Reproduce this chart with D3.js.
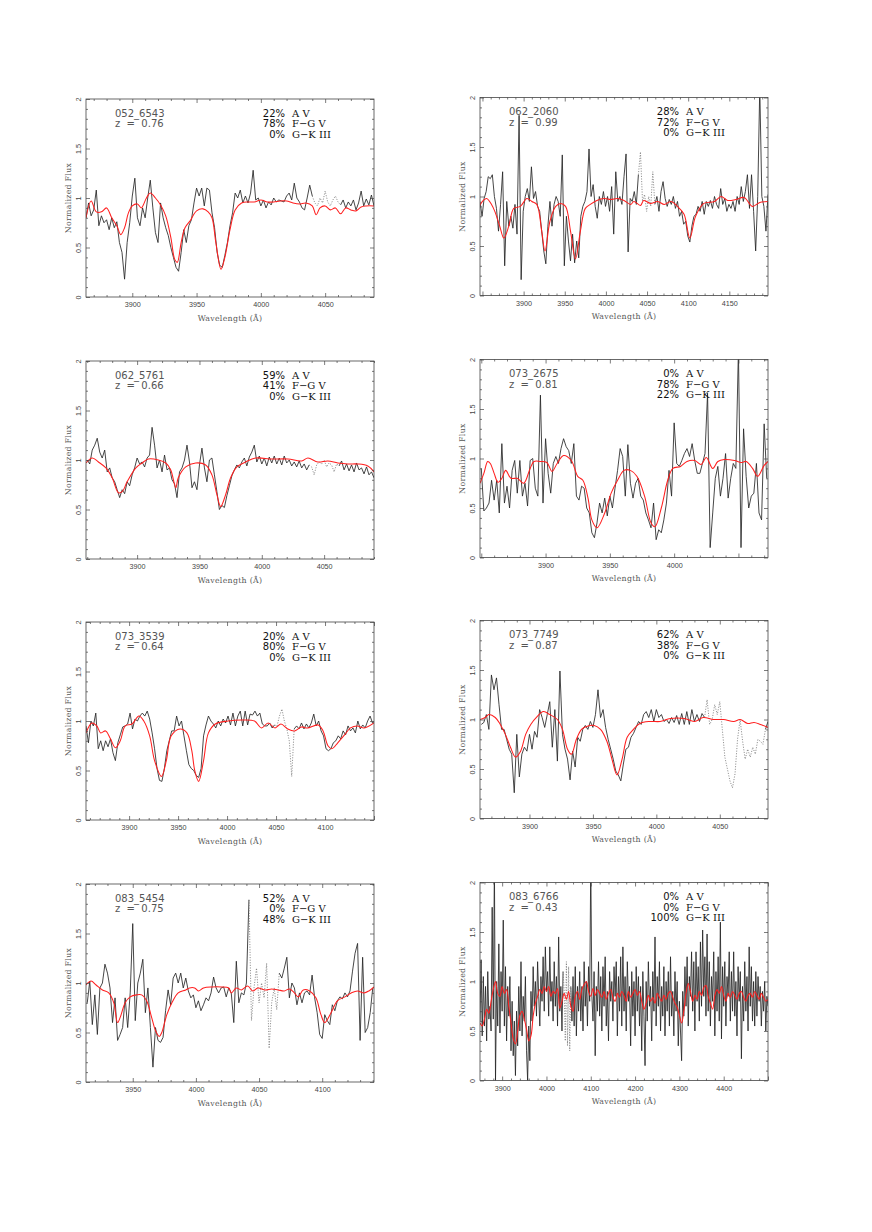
<!DOCTYPE html>
<html>
<head>
<meta charset="utf-8">
<script src="https://cdn.jsdelivr.net/npm/d3@7"></script>
<style>
  body { margin: 0; background: #fff; }
  svg { display: block; }
</style>
</head>
<body>
<div id="chart"></div>
<script>
// ---- panel labels ----
const specIds   = ["052_6543", "062_2060", "062_5761", "073_2675", "073_3539", "073_7749", "083_5454", "083_6766"];
const redshifts = ["0.76", "0.99", "0.66", "0.81", "0.64", "0.87", "0.75", "0.43"];
const pctA  = [22, 28, 59, 0, 20, 62, 52, 0];
const pctFG = [78, 72, 41, 78, 80, 38, 0, 0];
const pctGK = [0, 0, 0, 22, 0, 0, 48, 100];
const typeNames = ["A V", "F\u2212G V", "G\u2212K III"];

// ---- axes ----
const waveRanges = [[3864, 4088], [3847, 4197], [3859, 4090], [3849, 4073], [3856, 4150], [3861, 4088], [3913, 4141], [3850, 4500]];
const waveLabels = [
  [3900, 3950, 4000, 4050],
  [3900, 3950, 4000, 4050, 4100, 4150],
  [3900, 3950, 4000, 4050],
  [3900, 3950, 4000],
  [3900, 3950, 4000, 4050, 4100],
  [3900, 3950, 4000, 4050],
  [3950, 4000, 4050, 4100],
  [3900, 4000, 4100, 4200, 4300, 4400]
];
const fluxLabels = [0, 0.5, 1, 1.5, 2];

// ---- observed spectra: first wavelength, sampling, flux ----
const obsStart = [3864, 3847, 3860, 3850, 3856, 3862, 3914, 3850];
const obsStep  = [2, 2.5, 2, 2, 2.5, 2, 2, 2.5];
// wavelength windows drawn dotted (masked sky lines)
const maskedWindows = [[4041, 4061], [4040, 4059], [4040, 4061], null, [4050, 4067], [4039, 4084], [4043, 4064], [4039, 4054]];

const obs052_6543 = [0.80,0.95,0.82,0.88,1.08,0.72,0.82,0.75,0.78,0.68,
  0.80,0.70,0.76,0.55,0.45,0.18,0.55,0.75,1.02,1.20,
  0.80,0.72,0.90,0.80,1.00,1.18,0.90,0.65,0.55,0.95,
  0.80,0.70,0.62,0.50,0.40,0.30,0.26,0.45,0.68,0.55,
  0.72,0.78,0.95,1.10,1.02,1.10,0.92,1.10,1.08,0.85,
  0.70,0.45,0.32,0.30,0.42,0.55,0.72,0.85,1.05,1.00,
  1.08,0.95,1.02,0.95,1.05,1.28,0.98,1.00,0.92,0.98,
  0.90,0.96,0.93,1.00,0.96,0.98,0.97,0.96,1.02,1.05,
  0.98,1.15,1.00,0.96,0.90,0.88,1.00,1.13,1.02,0.95,
  0.92,1.00,0.95,1.07,0.96,0.92,0.98,1.02,0.96,0.93,
  0.98,0.90,0.96,0.92,0.98,0.88,0.95,1.07,0.92,0.99,
  0.93,1.03,0.92];
const obs062_2060 = [0.95,0.80,0.98,1.05,1.20,1.18,1.22,1.00,0.88,0.65,
  0.92,1.25,0.30,0.95,0.70,0.80,0.68,0.92,0.62,1.82,
  0.16,0.85,1.00,1.08,0.95,1.30,0.98,1.05,0.90,0.85,
  0.65,0.45,0.32,0.70,0.95,0.70,0.92,1.00,0.95,0.80,
  1.42,0.30,0.80,0.55,0.35,0.62,0.33,0.55,0.38,0.80,
  0.90,0.95,1.05,1.48,1.00,1.12,0.90,0.78,1.00,0.92,
  1.05,0.90,1.00,0.85,1.10,0.62,1.25,0.95,1.00,0.92,
  1.20,1.43,0.44,0.98,0.95,1.05,0.92,1.22,1.45,0.95,
  1.02,0.85,1.00,0.90,1.25,0.92,1.00,0.85,1.05,1.15,
  0.98,0.90,0.97,0.92,1.00,0.88,0.95,0.80,0.85,0.72,
  0.75,0.60,0.54,0.70,0.80,0.82,0.90,0.85,0.95,0.82,
  0.95,0.90,0.96,0.88,1.00,0.92,0.88,1.08,0.92,0.98,
  0.85,0.92,0.88,0.95,0.85,1.00,0.92,1.10,0.95,1.05,
  1.22,0.88,1.22,0.85,0.45,1.00,2.10,1.00,0.90,0.65,
  1.02];
const obs062_5761 = [1.00,0.96,1.10,1.15,1.22,1.08,1.02,1.10,0.88,0.92,
  0.82,0.78,0.70,0.62,0.70,0.66,0.78,0.74,0.85,0.92,
  1.02,0.96,0.98,0.93,1.02,1.05,1.33,1.15,0.92,1.00,
  0.88,1.05,0.90,0.92,0.80,0.76,0.62,0.88,0.92,1.00,
  1.15,0.98,0.72,0.78,0.70,0.95,1.12,0.92,0.78,1.00,
  1.02,0.85,0.68,0.50,0.54,0.52,0.64,0.74,0.84,0.90,
  0.95,0.92,0.98,1.02,0.94,1.03,1.08,1.15,0.98,1.04,
  0.96,1.02,0.94,1.03,0.97,1.04,0.96,1.02,0.95,1.04,
  0.97,1.00,0.94,0.98,0.93,0.99,0.92,0.96,0.90,0.95,
  0.93,0.85,0.95,0.98,0.96,1.00,0.93,0.97,0.95,0.88,
  0.96,0.94,0.99,0.90,0.96,0.89,0.95,0.88,0.97,0.90,
  0.92,0.86,0.93,0.85,0.88,0.82];
const obs073_2675 = [0.90,0.47,0.50,0.55,0.78,0.58,0.78,0.45,1.15,0.55,
  0.72,0.50,0.88,0.98,0.65,0.98,0.62,0.75,0.52,0.98,
  1.00,0.70,0.62,1.64,0.55,1.20,0.85,0.65,0.95,1.02,
  0.95,1.10,1.20,1.12,1.08,0.95,1.15,0.62,0.58,0.72,
  0.70,0.50,0.45,0.25,0.20,0.35,0.55,0.45,0.60,0.42,
  0.62,0.50,0.70,0.88,1.10,1.02,0.62,1.14,0.75,0.60,
  0.75,0.80,0.62,0.58,0.45,0.38,0.30,0.55,0.18,0.28,
  0.25,0.38,0.55,0.88,0.62,1.36,0.95,0.92,0.98,1.05,
  1.10,1.02,1.15,0.98,0.85,0.85,0.95,1.05,1.66,0.10,
  0.45,0.80,0.92,0.62,0.80,1.05,0.60,0.80,0.95,0.90,
  2.10,0.10,1.30,0.82,0.50,0.62,0.65,0.95,0.45,0.38,
  1.35,0.80];
const obs073_3539 = [0.95,0.78,1.00,0.95,1.08,0.72,0.80,0.70,0.80,0.74,
  0.82,0.68,0.60,0.78,0.86,0.94,0.95,0.97,1.08,0.92,
  1.02,1.00,1.05,1.08,1.05,1.10,1.02,0.88,0.72,0.52,
  0.40,0.39,0.52,0.70,0.80,0.90,0.90,1.05,0.95,1.00,
  0.85,0.70,0.56,0.52,0.50,0.45,0.43,0.52,0.85,0.96,
  1.05,1.00,0.97,0.93,1.00,0.95,1.02,0.98,1.05,0.96,
  1.08,0.95,1.05,1.10,0.95,1.10,0.96,1.07,1.06,1.10,
  1.05,1.08,0.97,0.95,0.95,0.98,0.93,0.96,0.95,1.05,
  1.12,1.00,0.92,0.80,0.44,0.92,0.95,0.92,0.98,0.92,
  0.97,0.93,0.98,1.07,0.95,1.00,0.90,0.85,0.72,0.70,
  0.72,0.78,0.80,0.85,0.82,0.90,0.86,0.95,0.90,0.93,
  0.88,1.00,0.92,0.96,0.93,1.00,1.05,0.98,1.00];
const obs073_7749 = [0.95,0.97,1.05,0.90,1.45,1.30,1.42,1.15,0.90,0.90,
  0.80,0.70,0.65,0.26,0.85,0.42,0.65,0.72,0.68,0.85,
  0.70,0.88,0.82,1.10,1.02,0.92,1.05,1.18,0.72,1.10,
  0.58,1.49,0.85,0.70,0.60,0.39,0.68,0.52,0.82,0.78,
  0.90,0.94,0.90,0.98,0.92,1.05,1.30,1.02,1.10,0.92,
  0.80,0.70,0.60,0.48,0.44,0.38,0.55,0.70,0.72,0.82,
  0.86,0.92,0.98,0.95,1.05,1.08,1.02,1.10,0.98,1.10,
  1.02,1.05,0.98,1.00,0.96,1.02,0.97,1.04,0.95,1.06,
  0.95,1.08,0.95,1.10,0.98,1.05,0.98,1.06,1.02,1.20,
  0.95,1.00,1.15,1.05,1.18,0.90,0.62,0.50,0.38,0.31,
  0.45,0.80,1.00,0.78,0.60,0.70,0.62,0.72,0.65,0.80,
  0.78,0.75,0.90,0.98];
const obs083_5454 = [0.80,1.02,0.58,0.88,0.48,0.95,1.00,1.19,1.10,0.95,
  0.60,0.85,0.42,0.48,0.55,0.85,0.55,0.90,1.60,0.62,
  1.00,1.10,1.24,0.70,0.95,0.55,0.15,0.55,0.42,0.40,
  0.45,0.72,0.93,0.78,1.05,1.10,1.00,1.10,0.95,1.05,
  0.92,0.85,0.88,0.75,0.82,0.72,0.78,0.85,0.82,0.90,
  1.06,0.95,0.90,0.95,0.96,0.86,0.95,0.90,0.60,1.22,
  0.80,0.90,0.88,1.00,1.84,0.62,0.95,1.15,0.80,1.00,
  0.85,1.20,0.34,0.80,0.95,0.73,1.10,1.05,1.15,1.26,
  0.85,1.00,0.95,0.78,0.90,0.80,0.90,0.92,0.88,1.08,
  0.85,0.70,0.48,0.44,0.68,0.62,0.58,0.78,0.72,0.82,
  0.86,0.84,0.90,0.86,0.92,1.12,1.30,1.40,0.42,1.26,
  0.50,0.55,0.70,0.95];
const obs083_6766 = [0.60,1.22,0.45,1.05,0.55,0.95,0.40,1.10,0.62,0.75,
  0.50,1.75,0.62,2.20,0.00,1.00,0.55,1.38,0.48,1.10,
  0.70,1.62,0.55,1.15,0.40,0.95,0.65,1.05,0.30,0.80,
  0.25,0.60,0.05,0.70,0.35,0.95,0.50,1.20,0.45,0.85,
  0.60,1.05,0.30,0.00,0.55,0.20,0.90,0.60,1.15,0.75,
  1.00,0.65,1.20,0.85,0.55,1.05,0.80,1.25,0.70,1.35,
  0.90,1.10,0.65,1.35,0.80,1.00,0.60,1.20,0.75,1.05,
  0.55,1.45,0.70,0.95,0.50,1.10,0.90,0.40,1.20,0.35,
  1.15,0.30,0.95,0.60,1.05,0.55,1.15,0.45,0.95,0.70,
  1.10,0.60,0.95,0.50,1.20,0.75,1.00,0.55,1.15,0.80,
  2.20,0.85,0.60,1.10,0.25,0.95,0.70,1.20,0.65,1.05,
  0.50,1.15,0.75,1.25,0.55,0.90,0.40,1.10,0.80,1.00,
  0.60,1.15,0.85,1.20,0.45,1.05,0.70,1.25,0.55,1.35,
  0.70,1.05,0.50,1.20,0.80,0.95,0.35,1.10,0.65,1.00,
  0.45,1.15,0.70,1.05,0.55,0.95,0.30,1.10,0.65,0.15,
  1.00,0.60,1.20,0.75,0.95,0.40,1.10,0.70,1.45,0.55,
  1.05,0.75,1.20,0.50,0.95,0.65,1.15,0.45,1.00,0.70,
  1.10,0.55,1.25,0.65,0.90,0.45,1.10,0.70,1.00,0.35,
  0.80,0.50,0.20,0.90,0.65,1.15,0.75,1.25,0.55,1.05,
  0.85,1.30,0.70,1.20,0.50,1.30,0.80,1.15,0.60,1.40,
  0.75,1.52,0.85,1.25,0.65,1.48,0.70,1.20,0.55,1.05,
  0.80,1.30,0.45,1.10,0.70,1.25,0.60,1.60,0.42,1.15,
  0.75,1.20,0.55,1.05,0.85,1.30,0.60,1.10,0.70,1.30,
  0.65,1.00,0.45,1.15,0.80,1.10,0.22,0.95,0.60,1.20,
  0.70,1.05,0.50,1.35,0.75,1.15,0.60,1.00,0.55,1.10,
  0.65,1.05,0.80,0.95,0.55,0.90,0.70,1.00,0.50,0.85,
  0.75];
const obsFlux = [obs052_6543, obs062_2060, obs062_5761, obs073_2675, obs073_3539, obs073_7749, obs083_5454, obs083_6766];

// ---- best-fit template (wavelength, flux) ----
const fit052_6543 = [[3864,0.80],[3868,0.97],[3872,0.86],[3876,0.86],[3880,0.90],[3884,0.80],[3888,0.72],[3891,0.63],[3894,0.70],[3897,0.85],[3900,0.92],[3904,0.94],[3907,0.90],[3911,1.00],[3914,1.05],[3918,1.00],[3922,0.93],[3926,0.82],[3930,0.60],[3933,0.38],[3935,0.35],[3938,0.55],[3941,0.70],[3945,0.77],[3950,0.87],[3955,0.89],[3959,0.86],[3962,0.80],[3965,0.55],[3969,0.28],[3972,0.40],[3976,0.68],[3980,0.88],[3985,0.95],[3990,0.96],[3995,0.96],[4000,0.98],[4005,0.96],[4010,0.96],[4015,0.97],[4020,0.97],[4025,0.95],[4030,0.94],[4035,0.95],[4040,0.92],[4043,0.83],[4046,0.90],[4050,0.92],[4054,0.88],[4058,0.90],[4062,0.84],[4066,0.90],[4070,0.88],[4074,0.87],[4078,0.91],[4082,0.92],[4088,0.92]];
const fit062_2060 = [[3846,0.90],[3851,0.96],[3855,0.98],[3861,0.92],[3865,0.85],[3871,0.70],[3876,0.58],[3882,0.70],[3888,0.88],[3896,0.90],[3904,0.98],[3910,0.95],[3916,0.92],[3922,0.65],[3926,0.45],[3932,0.75],[3939,0.90],[3945,0.93],[3951,0.90],[3957,0.65],[3963,0.37],[3969,0.65],[3975,0.88],[3981,0.92],[3989,0.96],[3998,0.98],[4006,0.97],[4014,0.98],[4022,0.96],[4030,0.92],[4034,0.95],[4042,0.91],[4046,0.96],[4054,0.93],[4063,0.95],[4071,0.92],[4079,0.95],[4087,0.90],[4095,0.82],[4102,0.58],[4109,0.80],[4119,0.93],[4132,0.95],[4140,1.00],[4148,0.96],[4158,0.97],[4168,0.99],[4178,0.90],[4187,0.94],[4197,0.95]];
const fit062_5761 = [[3859,0.97],[3864,1.02],[3869,0.98],[3875,0.92],[3880,0.82],[3885,0.67],[3888,0.68],[3892,0.78],[3899,0.92],[3904,0.97],[3909,1.01],[3917,1.00],[3923,0.97],[3927,0.90],[3931,0.72],[3933,0.82],[3939,0.93],[3947,0.97],[3955,0.95],[3960,0.85],[3964,0.65],[3967,0.53],[3971,0.65],[3975,0.82],[3980,0.93],[3987,0.98],[3995,1.02],[4008,1.01],[4021,1.01],[4032,0.99],[4037,1.02],[4045,0.98],[4053,0.99],[4061,0.97],[4069,0.96],[4077,0.96],[4085,0.94],[4090,0.88]];
const fit073_2675 = [[3849,0.75],[3852,0.85],[3855,0.97],[3857,0.95],[3860,0.85],[3863,0.76],[3866,0.80],[3869,0.88],[3873,0.80],[3878,0.80],[3883,0.75],[3888,0.90],[3891,0.97],[3896,0.97],[3901,0.96],[3905,0.87],[3909,0.95],[3914,1.03],[3920,0.98],[3925,0.82],[3929,0.78],[3933,0.60],[3936,0.38],[3940,0.30],[3946,0.45],[3951,0.65],[3956,0.78],[3961,0.88],[3966,0.88],[3971,0.82],[3977,0.62],[3982,0.35],[3985,0.31],[3990,0.50],[3995,0.78],[3999,0.90],[4005,0.92],[4010,0.97],[4016,0.98],[4021,0.94],[4025,1.01],[4030,0.90],[4034,0.97],[4039,0.99],[4047,0.98],[4052,0.96],[4056,0.97],[4061,0.90],[4065,0.82],[4070,0.93],[4073,0.97]];
const fit073_3539 = [[3856,0.88],[3862,0.98],[3867,0.95],[3871,0.88],[3876,0.90],[3881,0.82],[3886,0.73],[3891,0.80],[3896,0.95],[3903,0.97],[3910,1.05],[3915,1.00],[3921,0.85],[3926,0.60],[3933,0.44],[3938,0.60],[3943,0.85],[3952,0.92],[3959,0.88],[3964,0.70],[3967,0.50],[3971,0.39],[3976,0.60],[3981,0.88],[3988,0.97],[4001,1.00],[4015,1.01],[4028,1.00],[4035,0.93],[4042,0.98],[4049,0.93],[4055,0.97],[4062,0.92],[4069,0.90],[4076,0.94],[4082,0.93],[4093,0.96],[4098,0.90],[4103,0.75],[4107,0.72],[4113,0.78],[4120,0.86],[4126,0.93],[4133,0.95],[4140,0.93],[4150,0.98]];
const fit073_7749 = [[3861,1.00],[3865,1.02],[3868,1.05],[3873,1.02],[3877,0.95],[3881,0.85],[3885,0.72],[3889,0.62],[3893,0.68],[3897,0.85],[3901,0.95],[3906,1.03],[3911,1.08],[3916,1.05],[3922,1.00],[3926,0.90],[3930,0.70],[3933,0.65],[3937,0.80],[3941,0.90],[3945,0.93],[3951,0.94],[3956,0.90],[3961,0.78],[3965,0.60],[3969,0.44],[3973,0.60],[3977,0.82],[3982,0.90],[3987,0.96],[3995,0.98],[4003,0.98],[4011,1.01],[4022,1.01],[4030,0.98],[4037,1.02],[4045,1.00],[4053,1.00],[4061,0.98],[4066,1.00],[4072,0.96],[4077,0.97],[4082,0.95],[4088,0.92]];
const fit083_5454 = [[3913,0.98],[3917,1.02],[3921,0.98],[3926,0.93],[3931,0.90],[3935,0.80],[3938,0.60],[3940,0.65],[3944,0.80],[3948,0.86],[3953,0.88],[3957,0.88],[3961,0.82],[3965,0.65],[3968,0.52],[3971,0.46],[3973,0.50],[3977,0.68],[3981,0.80],[3986,0.90],[3992,0.93],[3995,0.95],[3999,0.95],[4002,0.92],[4006,0.95],[4013,0.96],[4020,0.96],[4026,0.95],[4028,0.90],[4032,0.95],[4036,0.93],[4041,0.97],[4045,0.92],[4049,0.95],[4055,0.93],[4060,0.94],[4065,0.93],[4070,0.92],[4074,0.94],[4078,0.90],[4081,0.86],[4085,0.93],[4090,0.92],[4095,0.85],[4099,0.68],[4102,0.60],[4107,0.70],[4112,0.82],[4118,0.86],[4123,0.90],[4128,0.92],[4133,0.90],[4137,0.92],[4141,0.96]];
// 083_6766 template sampled every 5 A from 3850 A
const fit083_6766Flux = [0.58,0.55,0.62,0.72,0.68,0.80,0.92,1.00,0.88,0.85,
  0.95,0.88,0.92,0.75,0.58,0.42,0.37,0.50,0.66,0.70,
  0.62,0.52,0.40,0.45,0.65,0.78,0.85,0.92,0.88,0.95,
  0.90,0.95,0.85,0.90,0.88,0.93,0.73,0.80,0.88,0.82,
  0.90,0.75,0.70,0.85,0.90,0.82,0.92,0.97,1.00,0.90,
  0.85,0.93,0.86,0.92,0.88,0.84,0.90,0.82,0.88,0.92,
  0.84,0.80,0.88,0.84,0.90,0.86,0.80,0.90,0.84,0.88,
  0.92,0.86,0.90,0.80,0.72,0.78,0.86,0.80,0.84,0.78,
  0.88,0.84,0.80,0.86,0.82,0.88,0.90,0.84,0.78,0.74,
  0.66,0.58,0.70,0.88,0.98,0.90,0.80,0.86,0.82,0.90,
  0.86,0.94,0.96,0.85,0.78,0.72,0.86,0.92,0.88,0.95,
  0.86,0.80,0.88,0.84,0.90,0.86,0.82,0.88,0.90,0.84,
  0.80,0.86,0.88,0.84,0.90,0.86,0.82,0.88,0.84,0.80,
  0.82];
const fit083_6766 = fit083_6766Flux.map((f, k) => [3850 + 5 * k, f]);
const fitFlux = [fit052_6543, fit062_2060, fit062_5761, fit073_2675, fit073_3539, fit073_7749, fit083_5454, fit083_6766];

// ---- layout ----
const W = 872, H = 1232;
const PW = 288, PH = 198;
const colX = [86, 480];
const rowY = [99, 361, 622, 884];
const colDy = [0, -1.5];
const inkGrey = "#444";

const svg = d3.select("#chart").append("svg")
  .attr("width", W).attr("height", H)
  .attr("viewBox", [0, 0, W, H]);
svg.append("rect").attr("width", W).attr("height", H).attr("fill", "#fff");

specIds.forEach((id, i) => {
  const col = i % 2, row = Math.floor(i / 2);
  const left = colX[col], top = rowY[row] + colDy[col];
  const [w0, w1] = waveRanges[i];

  const x = d3.scaleLinear().domain(waveRanges[i]).range([0, PW]);
  const y = d3.scaleLinear().domain([0, 2]).range([PH, 0]);

  const g = svg.append("g").attr("transform", `translate(${left},${top})`);

  g.append("clipPath").attr("id", "clip" + i)
    .append("rect").attr("width", PW).attr("height", PH);

  const plot = g.append("g").attr("clip-path", `url(#clip${i})`);

  // observed spectrum, masked window drawn dotted
  const pts = obsFlux[i].map((f, k) => [obsStart[i] + k * obsStep[i], f]);
  const m = maskedWindows[i];
  const outside = d => !m || d[0] < m[0] || d[0] > m[1];
  const near = d => m && d[0] >= m[0] - obsStep[i] && d[0] <= m[1] + obsStep[i];

  plot.append("path")
    .attr("d", d3.line().defined(outside).x(d => x(d[0])).y(d => y(d[1]))(pts))
    .attr("fill", "none").attr("stroke", "#262626").attr("stroke-width", 0.85)
    .attr("stroke-linejoin", "round");

  if (m) {
    plot.append("path")
      .attr("d", d3.line().defined(near).x(d => x(d[0])).y(d => y(d[1]))(pts))
      .attr("fill", "none").attr("stroke", "#7a7a7a").attr("stroke-width", 0.85)
      .attr("stroke-dasharray", "1.1 1.5");
  }

  // template fit
  plot.append("path")
    .attr("d", d3.line().curve(d3.curveCatmullRom.alpha(0.5)).x(d => x(d[0])).y(d => y(d[1]))(fitFlux[i]))
    .attr("fill", "none").attr("stroke", "#ff1f1f").attr("stroke-width", 1.05);

  // ---- ticks on all four sides, pointing inward ----
  const majStep = i === 7 ? 100 : 50, minStep = i === 7 ? 20 : 10;
  const xMajor = d3.range(Math.ceil(w0 / majStep) * majStep, w1 + 0.01, majStep);
  const xMinor = d3.range(Math.ceil(w0 / minStep) * minStep, w1 + 0.01, minStep).filter(v => v % majStep !== 0);
  const yMinor = d3.range(1, 20).map(v => v / 10).filter(v => Math.abs(v * 2 - Math.round(v * 2)) > 1e-6);

  const styleAxis = sel => {
    sel.select(".domain").remove();
    sel.selectAll("line").attr("stroke", inkGrey).attr("stroke-width", 0.7);
    sel.attr("font-family", "'Liberation Sans', Arial, sans-serif").attr("font-size", 7.2);
    sel.selectAll("text").attr("fill", inkGrey);
  };

  g.append("g").attr("transform", `translate(0,${PH})`)
    .call(d3.axisBottom(x).tickValues(xMajor).tickSize(-4)
      .tickFormat(v => waveLabels[i].includes(v) ? String(v) : ""))
    .call(styleAxis)
    .call(s => s.selectAll("text").attr("y", 10).attr("dy", 0));
  g.append("g").attr("transform", `translate(0,${PH})`)
    .call(d3.axisBottom(x).tickValues(xMinor).tickSize(-2).tickFormat(""))
    .call(styleAxis);
  g.append("g")
    .call(d3.axisTop(x).tickValues(xMajor).tickSize(-4).tickFormat(""))
    .call(styleAxis);
  g.append("g")
    .call(d3.axisTop(x).tickValues(xMinor).tickSize(-2).tickFormat(""))
    .call(styleAxis);

  g.append("g")
    .call(d3.axisLeft(y).tickValues(fluxLabels).tickSize(-4).tickFormat(d3.format("")))
    .call(styleAxis)
    .call(s => s.selectAll("text")
      .attr("x", null).attr("dy", 0).attr("text-anchor", "middle")
      .attr("transform", "translate(-5,0) rotate(-90)"));
  g.append("g")
    .call(d3.axisLeft(y).tickValues(yMinor).tickSize(-2).tickFormat(""))
    .call(styleAxis);
  g.append("g").attr("transform", `translate(${PW},0)`)
    .call(d3.axisRight(y).tickValues(fluxLabels).tickSize(-4).tickFormat(""))
    .call(styleAxis);
  g.append("g").attr("transform", `translate(${PW},0)`)
    .call(d3.axisRight(y).tickValues(yMinor).tickSize(-2).tickFormat(""))
    .call(styleAxis);

  // frame
  g.append("rect").attr("width", PW).attr("height", PH)
    .attr("fill", "none").attr("stroke", inkGrey).attr("stroke-width", 0.8);

  // axis titles
  g.append("text")
    .attr("x", PW / 2).attr("y", PH + 23.5)
    .attr("text-anchor", "middle")
    .attr("font-family", "'DejaVu Serif', serif").attr("font-size", 7.8)
    .attr("letter-spacing", 0.3)
    .attr("fill", "#555")
    .text("Wavelength (\u00C5)");
  g.append("text")
    .attr("transform", `translate(-15.5,${PH / 2}) rotate(-90)`)
    .attr("text-anchor", "middle")
    .attr("font-family", "'DejaVu Serif', serif").attr("font-size", 7.8)
    .attr("letter-spacing", 0.3)
    .attr("fill", "#555")
    .text("Normalized Flux");

  // object id and redshift
  const head = g.append("g").attr("font-family", "'DejaVu Sans', sans-serif").attr("font-size", 10);
  head.append("text").attr("x", 29).attr("y", 17.5).attr("fill", "#555").text(id);
  head.append("text").attr("x", 29).attr("y", 28.2).attr("fill", "#555")
    .attr("xml:space", "preserve").text("z  =  " + redshifts[i]);

  // template mixture
  const fractions = [pctA[i], pctFG[i], pctGK[i]];
  fractions.forEach((p, r) => {
    const yy = 17.5 + r * 10.7;
    head.append("text").attr("x", 199).attr("y", yy).attr("text-anchor", "end")
      .attr("fill", "#111").text(p + "%");
    head.append("text").attr("x", 206).attr("y", yy)
      .attr("font-family", "'DejaVu Serif', serif")
      .attr("fill", "#111").text(typeNames[r]);
  });
});
</script>
</body>
</html>
